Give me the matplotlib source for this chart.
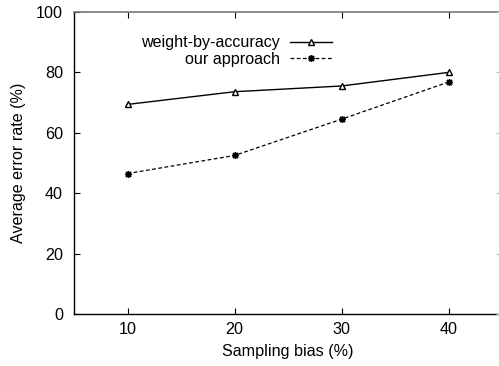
import matplotlib
matplotlib.use("Agg")
import matplotlib.pyplot as plt

plt.rcParams['font.family'] = ['Liberation Sans', 'DejaVu Sans']

bias = [10, 20, 30, 40]
weight_by_accuracy = [69.4, 73.6, 75.5, 80.0]
our_approach = [46.5, 52.5, 64.5, 76.8]
xticks = [10, 20, 30, 40]
yticks = [0, 20, 40, 60, 80, 100]

FS = 11.6
fig = plt.figure(figsize=(4.99, 3.66), dpi=100)
ax = fig.add_axes([74/499, 52/366, 428/499, 302/366])

ax.plot(bias, weight_by_accuracy, color='black', lw=1.0, marker='^', ms=5,
        mfc='white', mec='black', mew=1.0, label='weight-by-accuracy')
ax.plot(bias, our_approach, color='black', lw=0.9, dashes=(3, 2), marker=(8, 2, 0),
        ms=5, mec='black', mew=1.0, label='our approach')

ax.set_xlim(5, 45)
ax.set_ylim(0, 100)
ax.set_xticks(xticks)
ax.set_yticks(yticks)
ax.tick_params(direction='in', length=4, width=0.8, labelsize=FS, top=True, right=False, pad=6)
ax.tick_params(axis='y', pad=8)
for s in ['left', 'bottom']:
    ax.spines[s].set_linewidth(1.0)
ax.spines['top'].set_color('#777777')
ax.spines['top'].set_linewidth(1.2)
ax.spines['right'].set_color('#aaaaaa')
ax.set_xlabel('Sampling bias (%)', fontsize=FS, labelpad=5)
ax.set_ylabel('Average error rate (%)', fontsize=FS, labelpad=7)

ax2 = ax.twinx()
ax2.set_ylim(0, 100)
ax2.set_yticks(yticks)
ax2.tick_params(axis='y', direction='in', length=4, width=0.8, color='#bbbbbb',
                labelright=False)
for s in ax2.spines.values():
    s.set_visible(False)

leg = ax.legend(loc='upper right', bbox_to_anchor=(0.603, 0.923), frameon=False,
                markerfirst=False, handlelength=2.6, fontsize=FS,
                labelspacing=0.11, handletextpad=0.62, borderpad=0, borderaxespad=0)
for t in leg.get_texts():
    t.set_ha('right')
leg._legend_box.align = 'right'

fig.savefig('out.png', dpi=100)
